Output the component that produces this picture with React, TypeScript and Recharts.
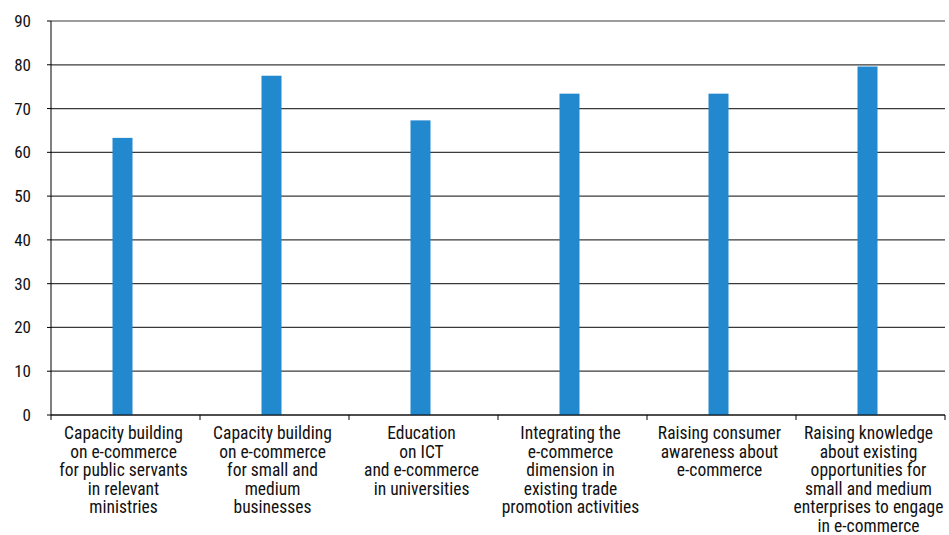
import { Bar, BarChart, CartesianGrid, XAxis, YAxis } from 'recharts';

const categories = [
  ['Capacity building', 'on e-commerce', 'for public servants', 'in relevant', 'ministries'],
  ['Capacity building', 'on e-commerce', 'for small and', 'medium', 'businesses'],
  ['Education', 'on ICT', 'and e-commerce', 'in universities'],
  ['Integrating the', 'e-commerce', 'dimension in', 'existing trade', 'promotion activities'],
  ['Raising consumer', 'awareness about', 'e-commerce'],
  ['Raising knowledge', 'about existing', 'opportunities for', 'small and medium', 'enterprises to engage', 'in e-commerce'],
];
const values = [63.3, 77.5, 67.3, 73.4, 73.4, 79.6];
const yTicks = [0, 10, 20, 30, 40, 50, 60, 70, 80, 90];

const font = '"Liberation Sans Narrow", "Roboto Condensed", "Liberation Sans", Arial, sans-serif';

const data = values.map((v, i) => ({ name: String(i), value: v }));

function CategoryTick(props: any) {
  const { x, y, payload, index } = props;
  const half = 894 / 6 / 2;
  const lines = categories[Number(payload.value)];
  return (
    <g>
      <line x1={x - half} x2={x - half} y1={y - 8} y2={y - 3} stroke="#000" />
      {index === categories.length - 1 && (
        <line x1={x + half} x2={x + half} y1={y - 8} y2={y - 3} stroke="#000" />
      )}
      <text x={x - 2} y={y + 16} textAnchor="middle" fontFamily={font} fontSize={17.5} fill="#111">
        {lines.map((l: string, i: number) => (
          <tspan key={i} x={x - 2} dy={i === 0 ? 0 : 18.6}>{l}</tspan>
        ))}
      </text>
    </g>
  );
}

function ShiftedBar(props: any) {
  const { x, y, width, height, fill } = props;
  return <rect x={x - 3.5} y={y} width={width} height={height} fill={fill} />;
}

export default function App() {
  return (
    <div style={{ position: 'absolute', left: 0, top: 0, background: '#fff' }}>
      <BarChart width={949} height={535} data={data} margin={{ top: 21, right: 4, bottom: 0, left: 0 }}>
        <CartesianGrid vertical={false} stroke="#3a3a3a" strokeWidth={1.2} />
        <XAxis
          dataKey="name"
          tick={<CategoryTick />}
          tickLine={false}
          axisLine={{ stroke: '#000' }}
          height={120}
          interval={0}
        />
        <YAxis
          domain={[0, 90]}
          ticks={yTicks}
          width={51}
          tickSize={4}
          tickMargin={16}
          axisLine={{ stroke: '#000' }}
          tickLine={{ stroke: '#000' }}
          tick={{ fontFamily: font, fontSize: 17, fill: '#111' }}
        />
        <Bar dataKey="value" fill="#2389CE" barSize={20} shape={<ShiftedBar />} isAnimationActive={false} />
      </BarChart>
    </div>
  );
}
